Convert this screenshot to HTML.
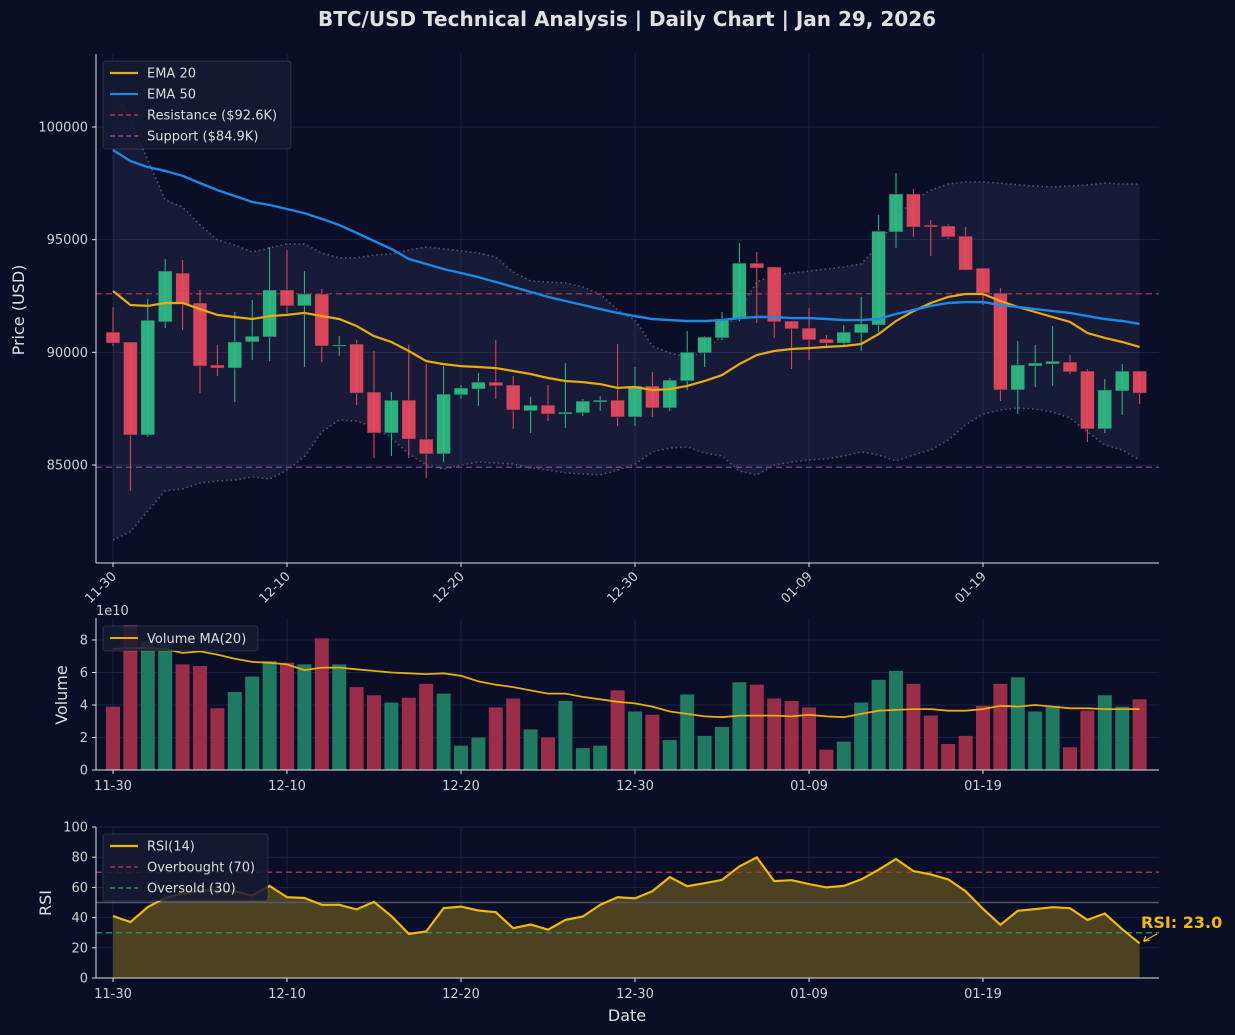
<!DOCTYPE html>
<html><head><meta charset="utf-8">
<style>
html,body{margin:0;padding:0;background:#0a0e27;}
svg{display:block;font-family:"DejaVu Sans","Liberation Sans",sans-serif;}
</style></head>
<body>
<svg id="chart" width="1235" height="1035" viewBox="0 0 1235 1035" xmlns="http://www.w3.org/2000/svg">
<rect x="0" y="0" width="1235" height="1035" fill="#0a0e27"/>
<text x="627" y="26" text-anchor="middle" font-size="20" font-weight="bold" fill="#e0e0e0">BTC/USD Technical Analysis | Daily Chart | Jan 29, 2026</text>
<g id="price"></g>
<g id="vol"></g>
<g id="rsi"></g>
</svg>
<script>
const tickLabels = ["11-30","12-10","12-20","12-30","01-09","01-19"];
const tickIdx = [0,10,20,30,40,50];
const opens = [90900,90460,86330,91350,93520,92190,89440,89300,90460,90680,92770,92060,92590,90280,90370,88240,86420,87880,86150,85490,88110,88370,88680,88550,87400,87660,87260,87310,87790,87880,87130,88510,87530,88730,89970,90640,91480,93960,93790,91390,91080,90590,90410,90860,91210,95340,97030,95650,95610,95160,93740,92630,88330,89390,89480,89570,89170,86600,88280,89170];
const highs = [92010,90460,92370,94140,94100,92770,90330,91790,92320,94670,94540,93610,92810,90720,90550,90060,88240,90330,89480,89390,88550,89080,90550,88950,88020,88550,89530,87930,88060,90370,89350,89130,88860,90950,90720,91790,94850,94450,93790,91390,91970,90770,91210,92460,96090,97960,97250,95870,95700,95560,93740,92850,90500,90330,91170,89880,89260,88820,89480,89170];
const lows = [90300,83850,86240,91080,90990,88190,88950,87790,89660,89610,91750,89350,89570,89840,87660,85310,85400,85310,84420,85130,87930,87620,87930,86600,86420,86950,86640,87170,87400,86730,86730,87130,87400,88330,89350,90550,91390,91300,90640,89260,89660,90280,90330,90060,90900,94630,95120,94270,95030,93650,92100,87840,87260,88460,88510,89040,86020,86420,87220,87710];
const closes = [90410,86330,91430,93610,92140,89390,89300,90460,90720,92770,92060,92590,90280,90330,88190,86420,87880,86150,85490,88150,88420,88680,88510,87440,87660,87260,87350,87840,87880,87130,88510,87530,88770,90010,90680,91480,93960,93740,91350,91040,90550,90410,90900,91260,95380,97030,95560,95560,95120,93650,92630,88330,89440,89530,89610,89130,86600,88330,89170,88190];
const ema20 = [92720,92100,92060,92190,92190,91920,91660,91570,91480,91610,91660,91750,91610,91480,91170,90720,90460,90060,89610,89480,89390,89350,89300,89170,89040,88860,88730,88680,88590,88420,88460,88330,88370,88510,88730,88990,89480,89880,90060,90150,90190,90240,90280,90370,90810,91390,91830,92190,92460,92590,92590,92280,92010,91790,91570,91350,90860,90640,90460,90240];
const ema50 = [98980,98490,98220,98050,97830,97510,97200,96940,96670,96540,96360,96180,95920,95650,95300,94940,94590,94140,93920,93700,93520,93340,93120,92900,92680,92460,92280,92100,91920,91750,91610,91480,91430,91390,91390,91430,91520,91570,91570,91520,91520,91480,91430,91430,91480,91700,91880,92060,92190,92230,92230,92100,92010,91920,91830,91750,91610,91480,91390,91260];
const bbUpper = [101730,100310,98540,96760,96450,95650,94990,94760,94450,94630,94810,94810,94410,94190,94190,94320,94360,94540,94670,94590,94500,94410,94230,93560,93170,93120,93080,92900,92590,91880,91430,90280,89970,89790,90010,90770,91880,93120,93430,93520,93610,93700,93790,93920,94760,95960,96760,97200,97470,97560,97560,97510,97430,97380,97340,97380,97430,97510,97470,97470];
const bbLower = [81670,82030,82960,83850,83940,84200,84290,84330,84470,84380,84780,85360,86470,87000,86950,86690,86200,85490,85000,84820,85000,85130,85090,85040,84870,84780,84650,84600,84560,84780,85040,85580,85750,85800,85530,85400,84730,84560,85000,85130,85220,85270,85400,85580,85440,85180,85440,85670,86110,86780,87260,87440,87530,87480,87350,87090,86470,85890,85670,85220];
const resistance = 92600;
const support = 84900;
const priceTicks = [85000,90000,95000,100000];
const volumes = [3.9,8.9,7.9,7.8,6.5,6.4,3.8,4.8,5.75,6.7,6.6,6.5,8.1,6.5,5.1,4.6,4.15,4.45,5.3,4.7,1.5,2.0,3.85,4.4,2.5,2.0,4.25,1.35,1.5,4.9,3.6,3.4,1.85,4.65,2.1,2.65,5.4,5.25,4.4,4.25,3.85,1.25,1.75,4.15,5.55,6.1,5.3,3.35,1.6,2.1,3.95,5.3,5.7,3.6,3.95,1.4,3.65,4.6,3.9,4.35];
const volMA = [7.45,7.5,7.5,7.45,7.2,7.3,7.1,6.85,6.65,6.6,6.5,6.15,6.3,6.3,6.2,6.1,6.0,5.95,5.9,5.95,5.8,5.45,5.25,5.1,4.9,4.7,4.7,4.5,4.35,4.2,4.1,3.9,3.6,3.45,3.3,3.25,3.35,3.35,3.35,3.3,3.4,3.3,3.25,3.45,3.65,3.7,3.75,3.75,3.65,3.65,3.75,3.95,3.9,4.0,3.9,3.8,3.8,3.75,3.75,3.75];
const volTicks = [0,2,4,6,8];
const rsiVals = [41,37,47,53,56,58,58,57.5,54.6,61,53.5,53,48.5,48.5,45.4,50.4,41,29.2,30.8,46.2,47.3,44.7,43.6,33,35.4,32,38.5,40.7,48.5,53.5,52.7,57.5,66.8,60.8,62.8,65,73.9,79.9,64.2,64.8,62.2,60,61,65.3,71.7,78.8,70.8,68.6,65.3,57.5,45.8,35.2,44.5,45.6,46.9,46.2,38.5,42.7,32.3,23.0];
const rsiTicks = [0,20,40,60,80,100];

const NS="http://www.w3.org/2000/svg";
const L=96,R=1159;
const X=i=>113+17.4*i;
const PY=p=>127+(100000-p)*338/15000;
const VY=v=>770-v*16.25;
const RY=r=>978-r*1.51;
const GREEN="#2ebd85",RED="#e84a5f";
function mk(parent,tag,attrs,text){const e=document.createElementNS(NS,tag);for(const k in attrs)e.setAttribute(k,attrs[k]);if(text!==undefined)e.textContent=text;parent.appendChild(e);return e;}
function pathOf(vals,f){return vals.map((v,i)=>(i?"L":"M")+X(i).toFixed(1)+","+f(v).toFixed(1)).join(" ");}

// ---------- PRICE PANEL ----------
const pg=document.getElementById('price');
const pTop=54,pBot=563;
priceTicks.forEach(t=>{const g=mk(pg,'line',{x1:L,x2:R,y1:PY(t),y2:PY(t),stroke:'#1b2040','stroke-width':1});
});
tickIdx.forEach(i=>{const g=mk(pg,'line',{x1:X(i),x2:X(i),y1:pTop,y2:pBot,stroke:'#1b2040','stroke-width':1});
});
// band fill
let bandD=bbUpper.map((v,i)=>(i?"L":"M")+X(i)+","+PY(v)).join(" ")+" "+bbLower.map((v,i)=>i).reverse().map(i=>"L"+X(i)+","+PY(bbLower[i])).join(" ")+"Z";
const band=mk(pg,'path',{d:bandD,fill:'rgba(120,120,170,0.12)'});

const bu=mk(pg,'path',{d:pathOf(bbUpper,PY),fill:'none',stroke:'#55586a','stroke-width':1.6,'stroke-dasharray':'1.5,3'});

const bl=mk(pg,'path',{d:pathOf(bbLower,PY),fill:'none',stroke:'#55586a','stroke-width':1.6,'stroke-dasharray':'1.5,3'});

const rl=mk(pg,'line',{x1:L,x2:R,y1:PY(resistance),y2:PY(resistance),stroke:'#a8384a','stroke-width':1.5,'stroke-dasharray':'6,4',opacity:0.85});

const sl=mk(pg,'line',{x1:L,x2:R,y1:PY(support),y2:PY(support),stroke:'#7d4b93','stroke-width':1.5,'stroke-dasharray':'6,4',opacity:0.85});

// candles
opens.forEach((o,i)=>{const c=closes[i];const col=c>=o?GREEN:RED;
 const w=mk(pg,'line',{x1:X(i),x2:X(i),y1:PY(highs[i]),y2:PY(lows[i]),stroke:col,'stroke-width':1});
 
 const top=PY(Math.max(o,c)),bot=PY(Math.min(o,c));
 const b=mk(pg,'rect',{x:X(i)-7,y:top,width:14,height:Math.max(bot-top,1.5),fill:col,stroke:'#1a1e35','stroke-width':0.6,opacity:0.92});
 
});
const e20=mk(pg,'path',{d:pathOf(ema20,PY),fill:'none',stroke:'#e6ac10','stroke-width':2.2});

const e50=mk(pg,'path',{d:pathOf(ema50,PY),fill:'none',stroke:'#1e88e5','stroke-width':2.4});

// axes
let a=mk(pg,'line',{x1:L,x2:L,y1:pTop,y2:pBot,stroke:'#e0e0e0','stroke-width':1});
a=mk(pg,'line',{x1:L,x2:R,y1:pBot,y2:pBot,stroke:'#e0e0e0','stroke-width':1});
priceTicks.forEach(t=>{const tk=mk(pg,'line',{x1:L-4,x2:L,y1:PY(t),y2:PY(t),stroke:'#e0e0e0'});
 const tl=mk(pg,'text',{x:L-8,y:PY(t)+4.5,'text-anchor':'end','font-size':13,fill:'#d0d0d0'},String(t));});
tickIdx.forEach((idx,k)=>{const tk=mk(pg,'line',{x1:X(idx),x2:X(idx),y1:pBot,y2:pBot+4,stroke:'#e0e0e0'});
 const tl=mk(pg,'text',{x:X(idx)+4,y:pBot+14,'text-anchor':'end','font-size':13,fill:'#d0d0d0',transform:`rotate(-45 ${X(idx)+4} ${pBot+14})`},tickLabels[k]);});
let yl=mk(pg,'text',{x:24,y:310,'text-anchor':'middle','font-size':16,fill:'#e0e0e0',transform:'rotate(-90 24 310)'},'Price (USD)');
// legend
const lg=mk(pg,'g',{});
mk(lg,'rect',{x:103,y:61,width:188,height:88,rx:3,fill:'rgba(22,26,52,0.85)',stroke:'rgba(255,255,255,0.12)'});
[['EMA 20','#e6ac10',null],['EMA 50','#1e88e5',null],['Resistance ($92.6K)','#a8384a','5,3'],['Support ($84.9K)','#7d4b93','5,3']].forEach((e,k)=>{
 const y=73+k*21;const ln=mk(lg,'line',{x1:110,x2:138,y1:y,y2:y,stroke:e[1],'stroke-width':e[2]?1.5:2.2});if(e[2])ln.setAttribute('stroke-dasharray',e[2]);
 const t=mk(lg,'text',{x:147,y:y+4.5,'font-size':13,fill:'#dddddd'},e[0]);});

// ---------- VOLUME PANEL ----------
const vg=document.getElementById('vol');
const vTop=618,vBot=770;
volTicks.forEach(t=>{const g=mk(vg,'line',{x1:L,x2:R,y1:VY(t),y2:VY(t),stroke:'#1b2040'});});
tickIdx.forEach(i=>{const g=mk(vg,'line',{x1:X(i),x2:X(i),y1:vTop,y2:vBot,stroke:'#1b2040'});});
volumes.forEach((v,i)=>{const col=closes[i]>=opens[i]?'#1f7a62':'#9a2e48';
 const b=mk(vg,'rect',{x:X(i)-7,y:VY(v),width:14,height:VY(0)-VY(v),fill:col});});
const vm=mk(vg,'path',{d:pathOf(volMA,VY),fill:'none',stroke:'#e6ac10','stroke-width':1.8});
a=mk(vg,'line',{x1:L,x2:L,y1:vTop,y2:vBot,stroke:'#e0e0e0'});
a=mk(vg,'line',{x1:L,x2:R,y1:vBot,y2:vBot,stroke:'#e0e0e0'});
volTicks.forEach(t=>{const tk=mk(vg,'line',{x1:L-4,x2:L,y1:VY(t),y2:VY(t),stroke:'#e0e0e0'});
 const tl=mk(vg,'text',{x:L-8,y:VY(t)+4.5,'text-anchor':'end','font-size':13,fill:'#d0d0d0'},String(t));});
tickIdx.forEach((idx,k)=>{const tk=mk(vg,'line',{x1:X(idx),x2:X(idx),y1:vBot,y2:vBot+4,stroke:'#e0e0e0'});
 const tl=mk(vg,'text',{x:X(idx),y:vBot+20,'text-anchor':'middle','font-size':13,fill:'#d0d0d0'},tickLabels[k]);});
let sc=mk(vg,'text',{x:96,y:615,'font-size':13,fill:'#d0d0d0'},'1e10');
yl=mk(vg,'text',{x:67,y:695,'text-anchor':'middle','font-size':16,fill:'#e0e0e0',transform:'rotate(-90 67 695)'},'Volume');
const vl=mk(vg,'g',{});
mk(vl,'rect',{x:103,y:626,width:155,height:25,rx:3,fill:'rgba(22,26,52,0.85)',stroke:'rgba(255,255,255,0.12)'});
mk(vl,'line',{x1:110,x2:138,y1:638,y2:638,stroke:'#e6ac10','stroke-width':2});
let vt=mk(vl,'text',{x:147,y:643,'font-size':13,fill:'#dddddd'},'Volume MA(20)');

// ---------- RSI PANEL ----------
const rg=document.getElementById('rsi');
const rTop=827,rBot=978;
rsiTicks.forEach(t=>{const g=mk(rg,'line',{x1:L,x2:R,y1:RY(t),y2:RY(t),stroke:'#1b2040'});});
tickIdx.forEach(i=>{const g=mk(rg,'line',{x1:X(i),x2:X(i),y1:rTop,y2:rBot,stroke:'#1b2040'});});
const rf=mk(rg,'path',{d:pathOf(rsiVals,RY)+` L${X(rsiVals.length-1)},${RY(0)} L${X(0)},${RY(0)} Z`,fill:'#4c4120',stroke:'none'});

const mid=mk(rg,'line',{x1:L,x2:R,y1:RY(50),y2:RY(50),stroke:'#55576a','stroke-width':1.5});
const ob=mk(rg,'line',{x1:L,x2:R,y1:RY(70),y2:RY(70),stroke:'#a3304e','stroke-width':1.5,'stroke-dasharray':'6,4'});
const os=mk(rg,'line',{x1:L,x2:R,y1:RY(30),y2:RY(30),stroke:'#2f8a5a','stroke-width':1.5,'stroke-dasharray':'6,4'});
const rl2=mk(rg,'path',{d:pathOf(rsiVals,RY),fill:'none',stroke:'#f0b90b','stroke-width':2.2});
a=mk(rg,'line',{x1:L,x2:L,y1:rTop,y2:rBot,stroke:'#e0e0e0'});
a=mk(rg,'line',{x1:L,x2:R,y1:rBot,y2:rBot,stroke:'#e0e0e0'});
rsiTicks.forEach(t=>{const tk=mk(rg,'line',{x1:L-4,x2:L,y1:RY(t),y2:RY(t),stroke:'#e0e0e0'});
 const tl=mk(rg,'text',{x:L-8,y:RY(t)+4.5,'text-anchor':'end','font-size':13,fill:'#d0d0d0'},String(t));});
tickIdx.forEach((idx,k)=>{const tk=mk(rg,'line',{x1:X(idx),x2:X(idx),y1:rBot,y2:rBot+4,stroke:'#e0e0e0'});
 const tl=mk(rg,'text',{x:X(idx),y:rBot+20,'text-anchor':'middle','font-size':13,fill:'#d0d0d0'},tickLabels[k]);});
yl=mk(rg,'text',{x:51,y:903,'text-anchor':'middle','font-size':16,fill:'#e0e0e0',transform:'rotate(-90 51 903)'},'RSI');
let xl=mk(rg,'text',{x:627,y:1021,'text-anchor':'middle','font-size':16,fill:'#e0e0e0'},'Date');
const rlg=mk(rg,'g',{});
mk(rlg,'rect',{x:103,y:834,width:165,height:67,rx:3,fill:'rgba(22,26,52,0.85)',stroke:'rgba(255,255,255,0.12)'});
[['RSI(14)','#f0b90b',null],['Overbought (70)','#a3304e','5,3'],['Oversold (30)','#2f8a5a','5,3']].forEach((e,k)=>{
 const y=846+k*21;const ln=mk(rlg,'line',{x1:110,x2:138,y1:y,y2:y,stroke:e[1],'stroke-width':e[2]?1.5:2.2});if(e[2])ln.setAttribute('stroke-dasharray',e[2]);
 const t=mk(rlg,'text',{x:147,y:y+4.5,'font-size':13,fill:'#dddddd'},e[0]);});
const last=rsiVals[rsiVals.length-1];
const ann=mk(rg,'text',{x:1141,y:928,'font-size':16,'font-weight':'bold',fill:'#f0b90b'},'RSI: '+last.toFixed(1));

const arr=mk(rg,'path',{d:`M1157,934 L${X(rsiVals.length-1)+4},${RY(last)-2} M${X(rsiVals.length-1)+4},${RY(last)-2} l6,-1 M${X(rsiVals.length-1)+4},${RY(last)-2} l2,-5`,stroke:'#f0b90b','stroke-width':1.2,fill:'none'});

</script>
</body></html>
